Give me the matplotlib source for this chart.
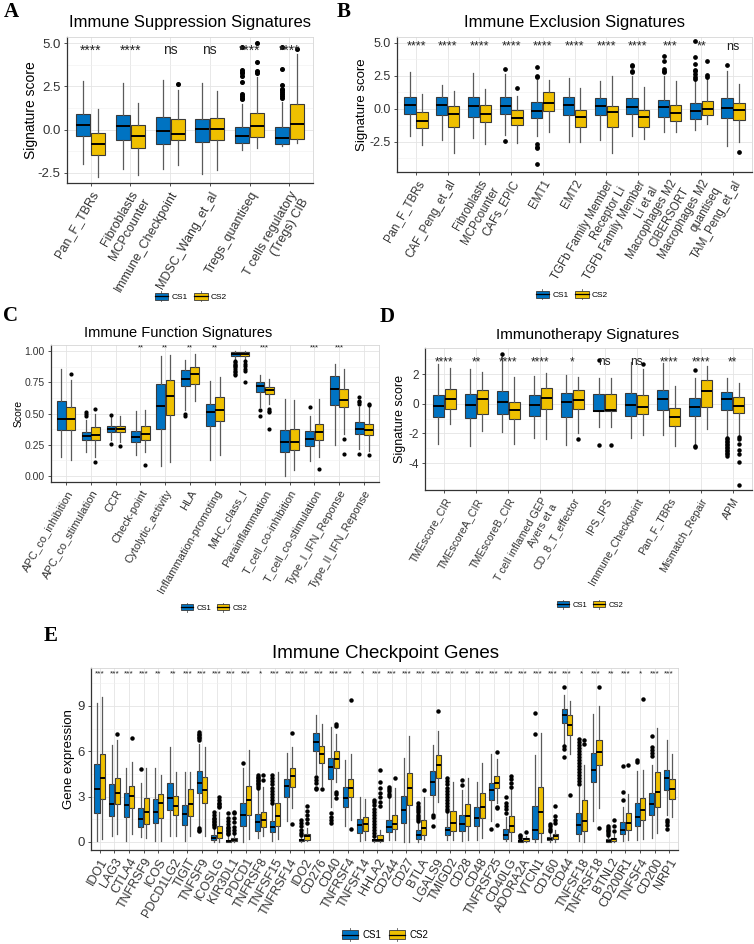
import matplotlib
matplotlib.use("Agg")
import matplotlib.pyplot as plt
from matplotlib.patches import Rectangle, Patch
from matplotlib.lines import Line2D
from matplotlib.legend_handler import HandlerBase
from matplotlib.ticker import MultipleLocator

plt.rcParams["font.family"] = ["Liberation Sans", "DejaVu Sans"]

W, H = 754, 944
COL_CS1 = "#0073C2"
COL_CS2 = "#EFC000"

# ---- A: immune suppression ----
A_labels = ["Pan_F_TBRs", "Fibroblasts\nMCPcounter", "Immune_Checkpoint", "MDSC_Wang_et_al",
            "Tregs_quantiseq", "T cells regulatory\n(Tregs) CIB"]
A_sig = ["****", "****", "ns", "ns", "****", "****"]
# whisker low, q1, median, q3, whisker high
A_cs1 = [[-2.0, -0.38, 0.29, 0.92, 2.8], [-2.25, -0.58, 0.21, 0.87, 2.71],
         [-2.25, -0.81, -0.08, 0.73, 2.88], [-2.54, -0.71, 0.04, 0.63, 2.7],
         [-1.19, -0.77, -0.37, 0.15, 1.5], [-0.95, -0.81, -0.46, 0.13, 1.6]]
A_out1 = [[], [], [], [], [4.77, 3.45, 3.35, 3.25, 3.1, 2.75, 2.05, 1.95, 1.85, 1.75],
          [4.77, 3.5, 2.6, 2.37, 2.27, 2.15, 2.05, 1.95, 1.85]]
A_cs2 = [[-2.73, -1.44, -0.85, -0.19, 1.17], [-2.63, -1.04, -0.38, 0.29, 1.54],
         [-2.06, -0.62, -0.23, 0.63, 2.31], [-2.35, -0.62, 0.02, 0.67, 2.21],
         [-1.04, -0.42, 0.19, 0.98, 3.04], [-0.77, -0.52, 0.35, 1.46, 4.38]]
A_out2 = [[], [], [2.65], [], [5.0, 3.9, 3.4, 3.3], [4.67]]

# ---- B: immune exclusion ----
B_labels = ["Pan_F_TBRs", "CAF_Peng_et_al", "Fibroblasts\nMCPcounter", "CAFs_EPIC", "EMT1", "EMT2",
            "TGFb Family Member\nReceptor Li", "TGFb Family Member\nLi et al",
            "Macrophages M2\nCIBERSORT", "Macrophages M2\nquantiseq", "TAM_Peng_et_al"]
B_sig = ["****"] * 8 + ["***", "**", "ns"]
B_cs1 = [[-2.03, -0.41, 0.28, 0.89, 2.77], [-2.36, -0.48, 0.30, 0.89, 1.83],
         [-2.23, -0.61, 0.20, 0.86, 2.72], [-1.98, -0.41, 0.18, 0.89, 2.66],
         [-2.10, -0.71, -0.18, 0.48, 2.20], [-2.49, -0.51, 0.28, 0.86, 2.34],
         [-2.36, -0.51, 0.18, 0.81, 2.13], [-2.10, -0.43, 0.10, 0.81, 2.51],
         [-1.73, -0.63, 0.10, 0.69, 2.46], [-1.60, -0.79, -0.20, 0.43, 2.08],
         [-2.79, -0.71, 0.05, 0.81, 2.84]]
B_out1 = [[], [], [], [3.05, -2.41], [3.15, 2.51, 2.41, -2.66, -2.87, -2.99, -4.21], [], [],
          [3.35, 3.22, 2.89, 2.77], [3.98, 3.65, 3.05, 2.89, 2.77],
          [5.13, 3.93, 3.40, 2.97, 2.84, 2.66, 2.41, 2.26], [3.30]]
B_cs2 = [[-2.74, -1.47, -0.89, -0.23, 1.14], [-3.38, -1.35, -0.41, 0.23, 1.37],
         [-2.67, -1.04, -0.38, 0.28, 1.50], [-2.61, -1.22, -0.71, -0.10, 0.94],
         [-1.73, -0.15, 0.41, 1.27, 2.16], [-2.56, -1.37, -0.63, -0.08, 1.57],
         [-3.32, -1.35, -0.28, 0.23, 2.46], [-2.31, -1.35, -0.66, -0.08, 1.65],
         [-1.73, -0.89, -0.33, 0.28, 2.08], [-1.14, -0.46, 0.00, 0.56, 2.28],
         [-2.49, -0.84, -0.08, 0.43, 1.90]]
B_out2 = [[], [], [], [1.57], [], [], [], [], [], [3.60, 2.54, 2.39], [-3.25]]

# ---- C: immune function ----
C_labels = ["APC_co_inhibition", "APC_co_stimulation", "CCR", "Check-point", "Cytolytic_activity",
            "HLA", "Inflammation-promoting", "MHC_class_I", "Parainflammation",
            "T_cell_co-inhibition", "T_cell_co-stimulation", "Type_I_IFN_Reponse",
            "Type_II_IFN_Reponse"]
C_sig = ["", "", "", "**", "**", "**", "**", "", "***", "", "***", "***", ""]
C_cs1 = [[0.15, 0.37, 0.46, 0.60, 0.86], [0.19, 0.29, 0.32, 0.35, 0.45], [0.29, 0.35, 0.38, 0.40, 0.47],
         [0.17, 0.27, 0.31, 0.36, 0.52], [0.08, 0.38, 0.56, 0.74, 0.96], [0.53, 0.72, 0.78, 0.85, 0.93],
         [0.13, 0.40, 0.51, 0.58, 0.76], [0.93, 0.96, 0.98, 0.99, 1.00], [0.55, 0.67, 0.72, 0.75, 0.81],
         [0.00, 0.19, 0.27, 0.37, 0.62], [0.12, 0.24, 0.30, 0.36, 0.48], [0.25, 0.57, 0.70, 0.80, 0.90],
         [0.22, 0.34, 0.38, 0.43, 0.55]]
C_out1 = [[], [0.51, 0.50, 0.48], [0.49, 0.26], [], [], [0.50, 0.48], [],
          [0.92, 0.91, 0.90, 0.89, 0.88, 0.87, 0.86, 0.84, 0.83, 0.82, 0.81], [0.53, 0.48], [],
          [0.55], [], [0.63, 0.60, 0.59, 0.58, 0.18]]
C_cs2 = [[0.13, 0.37, 0.46, 0.55, 0.77], [0.15, 0.29, 0.33, 0.39, 0.50], [0.27, 0.35, 0.38, 0.40, 0.48],
         [0.19, 0.29, 0.34, 0.40, 0.53], [0.11, 0.49, 0.64, 0.77, 0.97], [0.60, 0.74, 0.82, 0.87, 0.98],
         [0.17, 0.44, 0.53, 0.63, 0.79], [0.94, 0.96, 0.98, 0.99, 1.00], [0.58, 0.66, 0.69, 0.71, 0.78],
         [0.05, 0.21, 0.27, 0.38, 0.61], [0.15, 0.29, 0.35, 0.42, 0.62], [0.34, 0.55, 0.61, 0.70, 0.86],
         [0.20, 0.33, 0.37, 0.42, 0.55]]
C_out2 = [[0.82], [0.54, 0.11], [0.24], [0.09], [], [], [], [0.92, 0.90, 0.88, 0.86, 0.84, 0.75],
          [0.54, 0.52, 0.51, 0.38], [], [0.06], [0.30, 0.18], [0.58, 0.57, 0.17]]

# ---- D: immunotherapy ----
D_labels = ["TMEscore_CIR", "TMEscoreA_CIR", "TMEscoreB_CIR", "T cell inflamed GEP\nAyers et a",
            "CD_8_T_effector", "IPS_IPS", "Immune_Checkpoint", "Pan_F_TBRs", "Mismatch_Repair", "APM"]
D_sig = ["****", "**", "****", "****", "*", "ns", "ns", "****", "****", "**"]
D_cs1 = [[-2.70, -0.90, -0.18, 0.61, 2.65], [-2.81, -0.94, -0.07, 0.65, 2.36],
         [-1.91, -0.67, 0.11, 0.85, 3.25], [-2.31, -0.85, -0.07, 0.61, 1.84],
         [-2.74, -0.90, 0.09, 0.72, 1.91], [-1.57, -0.52, -0.49, 0.63, 1.75],
         [-2.29, -0.85, -0.11, 0.72, 2.80], [-2.07, -0.40, 0.29, 0.90, 2.76],
         [-2.70, -0.85, -0.22, 0.38, 1.75], [-2.25, -0.45, 0.29, 0.79, 1.75]]
D_out1 = [[], [], [3.35], [], [], [2.92, -2.74], [], [], [2.29, -2.81, -2.92],
          [-2.3, -2.4, -2.5, -2.6, -2.7, -2.8, -2.9, -3.0, -3.1, -3.2, -3.3, -3.4, -3.5]]
D_cs2 = [[-1.35, -0.34, 0.34, 1.01, 2.43], [-1.80, -0.67, 0.29, 0.94, 2.13],
         [-2.70, -1.03, -0.45, 0.11, 1.80], [-2.36, -0.34, 0.40, 1.08, 2.07],
         [-1.96, -0.34, 0.27, 0.90, 1.80], [-1.57, -0.52, -0.45, 0.63, 1.75],
         [-2.13, -0.67, -0.22, 0.61, 2.36], [-2.81, -1.51, -0.90, -0.27, 1.17],
         [-1.69, -0.22, 0.85, 1.57, 2.56], [-2.13, -0.63, -0.13, 0.45, 1.39]]
D_out2 = [[], [], [], [], [-2.36], [-2.74], [2.7], [], [],
          [-2.25, -2.4, -2.7, -3.1, -3.4, -3.9, -5.44]]

# ---- E: immune checkpoint genes ----
E_genes = ["IDO1", "LAG3", "CTLA4", "TNFRSF9", "ICOS", "PDCD1LG2", "TIGIT", "TNFSF9", "ICOSLG",
           "KIR3DL1", "PDCD1", "TNFRSF8", "TNFSF15", "TNFRSF14", "IDO2", "CD276", "CD40", "TNFRSF4",
           "TNFSF14", "HHLA2", "CD244", "CD27", "BTLA", "LGALS9", "TMIGD2", "CD28", "CD48",
           "TNFRSF25", "CD40LG", "ADORA2A", "VTCN1", "CD160", "CD44", "TNFSF18", "TNFRSF18",
           "BTNL2", "CD200R1", "TNFSF4", "CD200", "NRP1"]
E_sig = ["***", "***", "***", "***", "**", "**", "***", "***", "***", "***", "***", "*", "***",
         "***", "***", "***", "***", "***", "*", "***", "***", "***", "***", "***", "***", "***",
         "***", "***", "***", "***", "***", "***", "***", "*", "***", "**", "***", "*", "***", "***"]
E_cs1 = [[0.09, 1.92, 3.47, 5.14, 9.17], [0.37, 1.74, 2.54, 3.82, 6.39], [0.09, 1.68, 2.43, 3.27, 4.92],
         [0.35, 1.00, 1.55, 2.27, 3.9], [0.09, 1.28, 1.99, 2.83, 4.86], [0.37, 2.14, 2.91, 3.93, 6.28],
         [0.09, 1.15, 1.83, 2.47, 4.64], [1.03, 3.27, 3.91, 4.68, 6.5], [0.0, 0.11, 0.26, 0.49, 0.9],
         [0.0, 0.0, 0.04, 0.15, 0.4], [0.0, 1.06, 1.77, 2.60, 4.86], [0.26, 0.74, 1.29, 1.84, 3.5],
         [0.09, 0.63, 0.96, 1.36, 2.5], [1.36, 2.95, 3.70, 4.18, 5.89], [0.0, 0.04, 0.11, 0.22, 0.37],
         [4.49, 6.02, 6.59, 7.20, 8.40], [2.28, 4.18, 4.97, 5.58, 7.59], [1.03, 2.28, 2.93, 3.61, 5.40],
         [0.04, 0.59, 1.14, 1.51, 2.95], [0.0, 0.04, 0.11, 0.20, 0.3], [0.15, 0.63, 0.98, 1.47, 2.89],
         [0.0, 1.25, 2.12, 3.06, 5.58], [0.0, 0.22, 0.46, 0.77, 1.25], [1.95, 3.10, 3.98, 4.70, 6.43],
         [0.11, 0.44, 0.77, 0.96, 1.9], [0.04, 0.70, 1.20, 1.79, 3.43], [0.15, 1.03, 1.58, 2.34, 3.98],
         [1.36, 2.78, 3.44, 3.92, 5.84], [0.04, 0.20, 0.48, 0.88, 1.68], [0.0, 0.0, 0.04, 0.11, 0.22],
         [0.0, 0.20, 0.81, 2.41, 5.73], [0.0, 0.11, 0.22, 0.33, 0.6], [6.5, 7.86, 8.42, 8.80, 9.7],
         [0.04, 0.55, 1.09, 1.90, 3.61], [1.36, 3.94, 4.75, 5.89, 8.47], [0.0, 0.0, 0.09, 0.20, 0.3],
         [0.04, 0.53, 0.81, 1.29, 2.34], [0.11, 1.03, 1.68, 2.60, 4.70], [0.26, 1.79, 2.52, 3.26, 5.08],
         [1.79, 3.44, 4.20, 4.75, 6.72]]
E_out1 = [[], [], [], [4.84], [], [], [], [7.26, 7.15, 7.05, 6.95, 6.85, 6.75, 0.9, 0.8, 0.7],
          [2.0, 1.8, 1.6, 1.5, 1.4, 1.3, 1.2, 1.1, 1.0],
          [1.9, 1.6, 1.4, 1.2, 1.0, 0.9, 0.8, 0.7, 0.6, 0.5], [5.23],
          [4.4, 4.3, 4.2, 4.1, 4.0, 3.9, 3.8, 3.7, 3.6],
          [4.4, 4.2, 4.0, 3.8, 3.6, 3.4, 3.2, 3.0, 2.8, 2.6], [],
          [1.47, 1.25, 1.03, 0.81, 0.59, 0.48], [4.27, 4.09, 3.87, 3.6, 3.5], [1.9, 1.68, 1.47, 1.25],
          [], [], [2.78, 2.67, 2.45, 2.2, 2.0, 1.8, 1.6, 1.4, 1.2, 1.0, 0.8, 0.6, 0.4],
          [3.65, 3.5, 3.35, 3.2, 3.05], [], [2.56, 2.4, 2.25, 2.1, 1.95, 1.8, 1.65, 1.5, 1.36],
          [1.79, 1.64, 1.03], [4.25, 4.0, 3.8, 3.6, 3.4, 3.2, 3.0, 2.8, 2.6, 2.4, 2.2, 2.05],
          [4.09, 3.76], [], [0.85], [3.0, 2.56, 2.4, 2.2, 1.9], [0.48, 0.37, 0.28], [8.53, 7.16],
          [1.2, 1.03, 0.88, 0.7], [10.26, 6.32, 6.17, 5.62],
          [6.83, 6.6, 6.4, 6.2, 6.0, 5.8, 5.6, 5.4, 5.2, 5.0, 4.8, 4.6, 4.4, 4.2, 4.0, 3.8], [],
          [1.03, 0.9, 0.8, 0.7, 0.6, 0.48], [5.01, 3.33, 2.78], [5.4, 5.3], [6.98, 6.28, 6.1, 5.9, 5.7],
          [1.47, 1.29, 1.14, 0.85]]
E_cs2 = [[0.2, 2.87, 4.26, 5.80, 9.56], [0.55, 2.54, 3.25, 4.26, 6.72], [0.55, 2.27, 3.05, 3.71, 5.3],
         [0.24, 1.21, 2.0, 2.94, 4.86], [0.09, 1.61, 2.58, 3.20, 4.42], [0.37, 1.77, 2.36, 3.02, 4.64],
         [0.37, 1.70, 2.54, 3.47, 4.64], [0.37, 2.60, 3.42, 4.30, 6.28], [0.0, 0.29, 0.60, 1.04, 2.0],
         [0.0, 0.07, 0.15, 0.26, 0.5], [0.2, 1.77, 2.76, 3.71, 6.06], [0.37, 0.96, 1.47, 2.01, 3.65],
         [0.2, 1.03, 1.73, 2.60, 4.64], [2.23, 3.65, 4.35, 4.86, 6.28], [0.05, 0.15, 0.37, 0.53, 0.9],
         [3.7, 5.25, 5.80, 6.32, 7.81], [3.98, 4.92, 5.51, 6.00, 7.16], [1.47, 2.95, 3.59, 4.16, 5.80],
         [0.11, 0.74, 1.18, 1.68, 2.82], [0.0, 0.07, 0.15, 0.48, 0.8], [0.15, 0.85, 1.20, 1.77, 3.54],
         [0.0, 2.45, 3.54, 4.53, 6.98], [0.11, 0.48, 0.92, 1.47, 3.0], [2.63, 4.25, 5.08, 5.73, 7.33],
         [0.11, 0.74, 1.25, 2.08, 3.98], [0.15, 1.03, 1.73, 2.52, 4.2], [0.26, 1.58, 2.34, 3.22, 5.19],
         [2.6, 3.54, 3.92, 4.38, 5.51], [0.04, 0.63, 1.03, 1.73, 3.54], [0.0, 0.09, 0.18, 0.28, 0.4],
         [0.0, 0.59, 2.01, 3.65, 7.2], [0.02, 0.22, 0.42, 0.55, 0.8], [5.8, 7.09, 7.75, 8.42, 9.3],
         [0.0, 0.70, 1.36, 2.78, 5.08], [2.23, 5.12, 5.95, 6.72, 9.02], [0.0, 0.09, 0.20, 0.26, 0.5],
         [0.11, 0.81, 1.25, 1.90, 3.15], [0.2, 1.47, 2.12, 2.89, 4.79], [0.59, 2.34, 3.33, 4.64, 7.53],
         [1.68, 2.82, 3.48, 4.14, 5.84]]
E_out2 = [[], [7.16], [6.89], [], [], [], [], [], [3.0, 2.8, 2.6, 2.5, 2.4, 2.3],
          [2.0, 1.9, 1.6, 1.3, 1.0, 0.8, 0.6], [], [4.42, 4.09], [], [7.2, 1.18],
          [2.39, 2.08, 1.79, 1.51, 1.25], [3.5], [7.81, 7.64, 3.33, 3.15, 2.89], [9.39, 0.85], [],
          [4.75, 3.98, 3.54, 3.26, 3.0, 2.67, 2.39], [4.25], [], [3.43], [8.64], [], [], [],
          [5.95, 2.34, 2.23, 1.14], [4.35, 4.14, 3.87, 3.65], [0.63], [], [2.39, 1.73, 1.47, 1.25],
          [3.1], [6.76, 6.5], [10.22, 0.92], [1.42, 1.03, 0.7], [5.12], [9.45], [], []]


class BoxKey(HandlerBase):
    def create_artists(self, legend, orig_handle, xdescent, ydescent, width, height, fontsize, trans):
        x0, y0 = -xdescent, -ydescent
        stub = Line2D([x0 + width / 2] * 2, [y0 - height * 0.25, y0 + height * 1.25],
                      color="#5a5a5a", lw=0.6, transform=trans)
        rect = Rectangle((x0, y0), width, height, facecolor=orig_handle.get_facecolor(),
                         edgecolor="#3a3a3a", lw=0.6, transform=trans)
        med = Line2D([x0, x0 + width], [y0 + height / 2] * 2, color="black", lw=0.9, transform=trans)
        return [stub, rect, med]


fig = plt.figure(figsize=(W / 100, H / 100), dpi=100)


def px_axes(l, t, r, b):
    return fig.add_axes([l / W, 1 - b / H, (r - l) / W, (b - t) / H])


def box_panel(ax, labels, sig, cs1, cs2, out1, out2, ylim, yticks, yfmt, minor,
              sig_y, sig_fs, ytick_fs, xtick_fs, ms):
    n = len(labels)
    pos = list(range(1, n + 1))
    for src, outs, col, off in [(cs1, out1, COL_CS1, -0.1875), (cs2, out2, COL_CS2, 0.1875)]:
        stats = [dict(whislo=s[0], q1=s[1], med=s[2], q3=s[3], whishi=s[4], fliers=o)
                 for s, o in zip(src, outs)]
        ax.bxp(stats, positions=[p + off for p in pos], widths=0.355, patch_artist=True,
               showcaps=False, manage_ticks=False,
               boxprops=dict(facecolor=col, edgecolor="#3a3a3a", linewidth=0.8),
               medianprops=dict(color="black", linewidth=1.4),
               whiskerprops=dict(color="#5a5a5a", linewidth=0.9),
               flierprops=dict(marker="o", markerfacecolor="black", markeredgecolor="black",
                               markersize=ms, linestyle="none"))
    for p, s in zip(pos, sig):
        ax.text(p, sig_y, s, ha="center", va="baseline", fontsize=sig_fs, color="#222222")
    ax.set_xlim(0.4, n + 0.6)
    ax.set_ylim(*ylim)
    ax.set_xticks(pos)
    ax.set_xticklabels(labels, rotation=60, ha="right", va="top", rotation_mode="anchor",
                       fontsize=xtick_fs, color="#333333")
    ax.set_yticks(yticks)
    ax.set_yticklabels([yfmt.format(v) for v in yticks], fontsize=ytick_fs, color="#333333")
    ax.yaxis.set_minor_locator(MultipleLocator(minor))
    ax.tick_params(which="major", length=2.5, width=0.6, color="#333333", pad=2)
    ax.tick_params(which="minor", length=0)
    ax.grid(which="major", color="#e4e4e4", lw=0.6)
    ax.grid(which="minor", axis="y", color="#f0f0f0", lw=0.4)
    ax.set_axisbelow(True)
    for side in ["left", "bottom"]:
        ax.spines[side].set_color("#333333")
        ax.spines[side].set_linewidth(0.9)
    for side in ["top", "right"]:
        ax.spines[side].set_color("#d6d6d6")
        ax.spines[side].set_linewidth(0.6)


def add_legend(cx, cy, fs, hl, hh):
    handles = [Patch(facecolor=COL_CS1), Patch(facecolor=COL_CS2)]
    fig.legend(handles, ["CS1", "CS2"], loc="center", bbox_to_anchor=(cx / W, 1 - cy / H),
               ncol=2, frameon=False, fontsize=fs, handler_map={Patch: BoxKey()},
               handlelength=hl, handleheight=hh, handletextpad=0.4, columnspacing=0.8)


def ftext(x, y, s, **kw):
    fig.text(x / W, 1 - y / H, s, **kw)


# A
axA = px_axes(67, 37, 313, 183)
box_panel(axA, A_labels, A_sig, A_cs1, A_cs2, A_out1, A_out2, (-3.08, 5.35),
          [-2.5, 0.0, 2.5, 5.0], "{:.1f}", 1.25, 4.35, 10, 9.5, 9, 2.6)
ftext(190, 23, "Immune Suppression Signatures", ha="center", va="center", fontsize=12)
ftext(31, 110, "Signature score", ha="center", va="center", rotation=90, fontsize=10)
ftext(11, 12, "A", ha="center", va="center", fontsize=15, fontweight="bold",
      family="Liberation Serif")
add_legend(191, 297, 6, 1.6, 0.9)

# B
axB = px_axes(397, 37, 752, 172)
box_panel(axB, B_labels, B_sig, B_cs1, B_cs2, B_out1, B_out2, (-4.8, 5.45),
          [-2.5, 0.0, 2.5, 5.0], "{:.1f}", 1.25, 4.49, 9, 9, 8.3, 2.4)
ftext(574, 22, "Immune Exclusion Signatures", ha="center", va="center", fontsize=12)
ftext(362, 105, "Signature score", ha="center", va="center", rotation=90, fontsize=9.5)
ftext(344, 12, "B", ha="center", va="center", fontsize=15, fontweight="bold",
      family="Liberation Serif")
add_legend(572, 295, 6, 1.6, 0.9)

# C
axC = px_axes(51, 345, 379, 482)
box_panel(axC, C_labels, C_sig, C_cs1, C_cs2, C_out1, C_out2, (-0.048, 1.048),
          [0.0, 0.25, 0.5, 0.75, 1.0], "{:.2f}", 0.125, 1.012, 5.5, 7.5, 8, 2.0)
ftext(178, 333, "Immune Function Signatures", ha="center", va="center", fontsize=10.5)
ftext(19, 413, "Score", ha="center", va="center", rotation=90, fontsize=7.5)
ftext(11, 316, "C", ha="center", va="center", fontsize=15, fontweight="bold",
      family="Liberation Serif")
add_legend(214, 608, 5.5, 1.6, 0.9)

# D
axD = px_axes(425, 348, 752, 490)
box_panel(axD, D_labels, D_sig, D_cs1, D_cs2, D_out1, D_out2, (-5.8, 3.75),
          [-4, -2, 0, 2], "{:.0f}", 1, 2.58, 8.5, 8.5, 7.7, 2.2)
ftext(588, 335, "Immunotherapy Signatures", ha="center", va="center", fontsize=11)
ftext(400, 419, "Signature score", ha="center", va="center", rotation=90, fontsize=9)
ftext(387, 317, "D", ha="center", va="center", fontsize=15, fontweight="bold",
      family="Liberation Serif")
add_legend(590, 605, 5.5, 1.6, 0.9)

# E
axE = px_axes(91, 668, 678, 850)
box_panel(axE, E_genes, E_sig, E_cs1, E_cs2, E_out1, E_out2, (-0.53, 11.5),
          [0, 3, 6, 9], "{:.0f}", 1.5, 11.0, 6, 9.5, 9, 2.2)
ftext(385, 653, "Immune Checkpoint Genes", ha="center", va="center", fontsize=13.5)
ftext(69, 759, "Gene expression", ha="center", va="center", rotation=90, fontsize=9.5)
ftext(51, 636, "E", ha="center", va="center", fontsize=15, fontweight="bold",
      family="Liberation Serif")
add_legend(385, 935, 7, 1.7, 1.0)

fig.savefig("out.png", dpi=100)
